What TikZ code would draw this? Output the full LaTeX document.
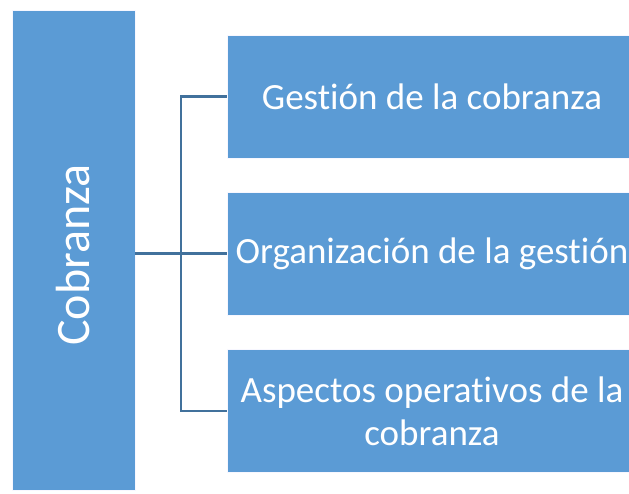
\documentclass[tikz,border=0pt]{standalone}
\usepackage{fontspec}
\setmainfont[Ligatures={NoCommon}]{Carlito}
\begin{document}
\begin{tikzpicture}[x=1pt,y=-1pt,
  box/.style={draw=white!85!blue!20, line width=0.8pt, fill=fillblue, text=white, inner sep=0pt},
  conn/.style={draw=lineblue, line width=2.2pt}]
\definecolor{fillblue}{HTML}{5B9BD5}
\definecolor{lineblue}{HTML}{41719C}
\useasboundingbox[fill=white] (0,0) rectangle (629,493);
\begin{scope}
\clip (0,0) rectangle (629,493);
\node[box, minimum width=123pt, minimum height=480pt] (main) at (73.5,250) {};
\node[text=white, rotate=90, font=\fontsize{48}{54}\selectfont] (mainlbl) at (73.5,255) {Cobranza};
\node[box, minimum width=410pt, minimum height=123pt, font=\fontsize{37}{44}\selectfont] (b1) at (432,96.5) {Gestión de la cobranza};
\node[box, minimum width=410pt, minimum height=123pt, font=\fontsize{37}{44}\selectfont] (b2) at (432,253.5) {Organización de la gestión};
\node[box, minimum width=410pt, minimum height=123pt, align=center, font=\fontsize{37}{43}\selectfont] (b3) at (432,411) {Aspectos operativos de la\\cobranza};
\end{scope}
\coordinate (j) at (181,253.5);
\draw[conn] (main.east |- j) -- (b2.west);
\draw[conn] (b1.west) -- (j |- b1.west) -- (j |- b3.west) -- (b3.west);
\end{tikzpicture}
\end{document}
